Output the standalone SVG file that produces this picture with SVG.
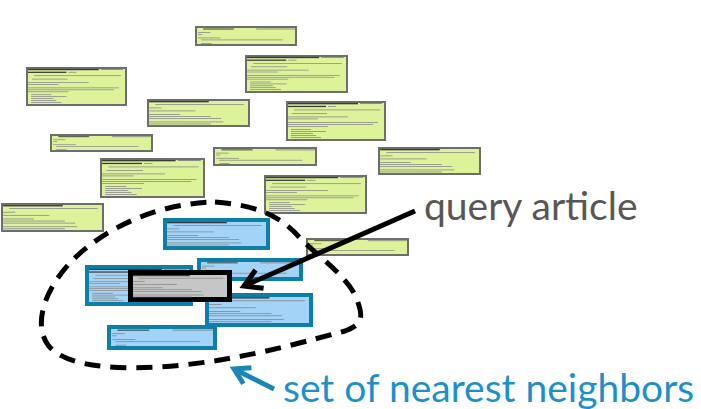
<svg xmlns="http://www.w3.org/2000/svg" width="701" height="409" viewBox="0 0 701 409">
<style>
.g{fill:#dcf39a;stroke:#6d6d6d;stroke-width:2}
.b{fill:#a3d3f6;stroke:#0b7fa7;stroke-width:4}
.q{fill:#c6c6c6;stroke:#000;stroke-width:5}
.h{fill:#3a3a3a}
.t{fill:#8b8b8b}
.lbl{font-family:Lato,"Open Sans",sans-serif;font-size:39px;font-weight:400}
.dash{fill:none;stroke:#000;stroke-width:5;stroke-dasharray:16 10}
</style>
<defs>
<marker id="ahk" markerUnits="userSpaceOnUse" markerWidth="40" markerHeight="40" refX="0" refY="0" orient="auto" overflow="visible">
<path d="M-17,-10 L0,0 L-17,10" fill="none" stroke="#000" stroke-width="5"/>
</marker>
<marker id="ahb" markerUnits="userSpaceOnUse" markerWidth="40" markerHeight="40" refX="0" refY="0" orient="auto" overflow="visible">
<path d="M-15,-9 L0,0 L-15,9" fill="none" stroke="#1a86b8" stroke-width="5"/>
</marker>
<g id="tLong">
<rect class="h" x="2" y="2" width="70" height="1.3"/><rect class="t" x="74" y="2" width="22" height="1"/>
<rect class="h" x="2" y="4.8" width="38" height="1.3"/><rect class="t" x="42" y="5" width="8" height="0.8"/>
<rect class="t" x="8" y="8.5" width="86" height="0.8"/>
<rect class="t" x="6" y="12" width="35" height="0.8"/>
<rect class="t" x="2" y="15.5" width="60" height="0.8"/><rect class="t" x="2" y="17.5" width="30" height="0.8"/>
<rect class="t" x="2" y="21" width="90" height="0.8"/><rect class="t" x="2" y="23" width="85" height="0.8"/><rect class="t" x="2" y="25" width="40" height="0.8"/>
<rect class="t" x="5" y="28" width="20" height="0.8"/><rect class="t" x="5" y="30" width="35" height="0.8"/><rect class="t" x="5" y="32" width="22" height="0.8"/><rect class="t" x="5" y="34" width="25" height="0.8"/><rect class="t" x="5" y="36" width="30" height="0.8"/>
</g>
<g id="tSmall">
<rect class="h" x="8" y="2.5" width="30" height="1"/><rect class="t" x="60" y="2.5" width="38" height="1"/>
<rect class="t" x="3" y="6" width="12" height="0.8"/><rect class="t" x="3" y="8" width="4" height="0.8"/>
<rect class="t" x="3" y="11.5" width="22" height="0.8"/><rect class="t" x="6" y="13.5" width="80" height="0.8"/>
<rect class="t" x="6" y="17" width="10" height="0.8"/>
</g>
<g id="tWelcome">
<rect class="h" x="2" y="2" width="58" height="1.3"/>
<rect class="t" x="8" y="5" width="86" height="0.8"/>
<rect class="t" x="2" y="8.5" width="12" height="0.8"/>
<rect class="t" x="2" y="11.5" width="45" height="0.8"/>
<rect class="t" x="2" y="15" width="30" height="0.8"/><rect class="t" x="2" y="17" width="60" height="0.8"/><rect class="t" x="2" y="19" width="70" height="0.8"/>
<rect class="t" x="2" y="22.5" width="72" height="0.8"/><rect class="t" x="2" y="24.5" width="60" height="0.8"/>
</g>
</defs>

<g id="cardA"><rect class="g" x="196" y="27" width="100" height="18"/><use href="#tSmall" transform="translate(195,26) scale(1.02,1)"/></g>
<g id="cardB"><rect class="g" x="27" y="68" width="99" height="37"/><use href="#tLong" transform="translate(26,67) scale(1.01,0.975)"/></g>
<g id="cardC"><rect class="g" x="246" y="56" width="101" height="36"/><use href="#tLong" transform="translate(245,55) scale(1.03,0.95)"/></g>
<g id="cardD"><rect class="g" x="148" y="100" width="101" height="26"/><use href="#tWelcome" transform="translate(147,99) scale(1.03,1)"/></g>
<g id="cardE"><rect class="g" x="287" y="102" width="98" height="38"/><use href="#tLong" transform="translate(286,101)"/></g>
<g id="cardF"><rect class="g" x="51" y="135" width="101" height="16"/><use href="#tSmall" transform="translate(50,134) scale(1.03,0.9)"/></g>
<g id="cardL"><rect class="g" x="101" y="159" width="103" height="38"/><use href="#tLong" transform="translate(100,158) scale(1.05,1)"/></g>
<g id="cardG"><rect class="g" x="214" y="148" width="102" height="17"/><use href="#tSmall" transform="translate(213,147) scale(1.04,0.95)"/></g>
<g id="cardH"><rect class="g" x="265" y="176" width="101" height="37"/><use href="#tLong" transform="translate(264,175) scale(1.03,0.975)"/></g>
<g id="cardI"><rect class="g" x="379" y="148" width="101" height="26"/><use href="#tWelcome" transform="translate(378,147) scale(1.03,1)"/></g>
<g id="cardJ"><rect class="g" x="2" y="204" width="101" height="27"/><use href="#tWelcome" transform="translate(1,203) scale(1.03,1.036)"/></g>
<g id="cardK"><rect class="g" x="307" y="239" width="101" height="16"/><use href="#tSmall" transform="translate(306,238) scale(1.03,0.9)"/></g>

<g id="nn1"><rect class="b" x="165" y="220" width="103" height="28"/><use href="#tWelcome" transform="translate(165,220) scale(1.03,1)"/></g>
<g id="nn2"><rect class="b" x="199" y="260" width="102" height="19"/><use href="#tSmall" transform="translate(199,260) scale(1.02,0.95)"/></g>
<g id="nn3"><rect class="b" x="87" y="267" width="104" height="37"/><use href="#tLong" transform="translate(87,267) scale(1.04,0.925)"/></g>
<g id="nn5"><rect class="b" x="109" y="327" width="106" height="21"/><use href="#tSmall" transform="translate(109,327) scale(1.06,1.05)"/></g>
<g id="nn4"><rect class="b" x="207" y="295" width="104" height="30"/><use href="#tWelcome" transform="translate(207,295) scale(1.04,1.07)"/></g>
<g id="query"><rect class="q" x="130.5" y="272.5" width="99" height="27"/><use href="#tWelcome" transform="translate(131,273) scale(0.98,0.96)"/></g>

<g id="connectors">
<path class="dash" d="M215,202 C255,205 280,215 300,238 C320,258 345,275 355,295 C365,318 362,325 345,331 C310,340 270,352 220,360 C160,370 70,375 48,345 C30,320 50,275 90,245 C120,222 165,203 215,202 Z"/>
<line x1="415" y1="211" x2="244" y2="286" stroke="#000" stroke-width="5" marker-end="url(#ahk)"/>
<line x1="274" y1="389" x2="234" y2="369" stroke="#1a86b8" stroke-width="5" marker-end="url(#ahb)"/>
</g>

<g id="labels">
<text class="lbl" x="424" y="220" fill="#595656">query article</text>
<text class="lbl" x="283" y="402" fill="#1f8fc8">set of nearest neighbors</text>
</g>
</svg>
